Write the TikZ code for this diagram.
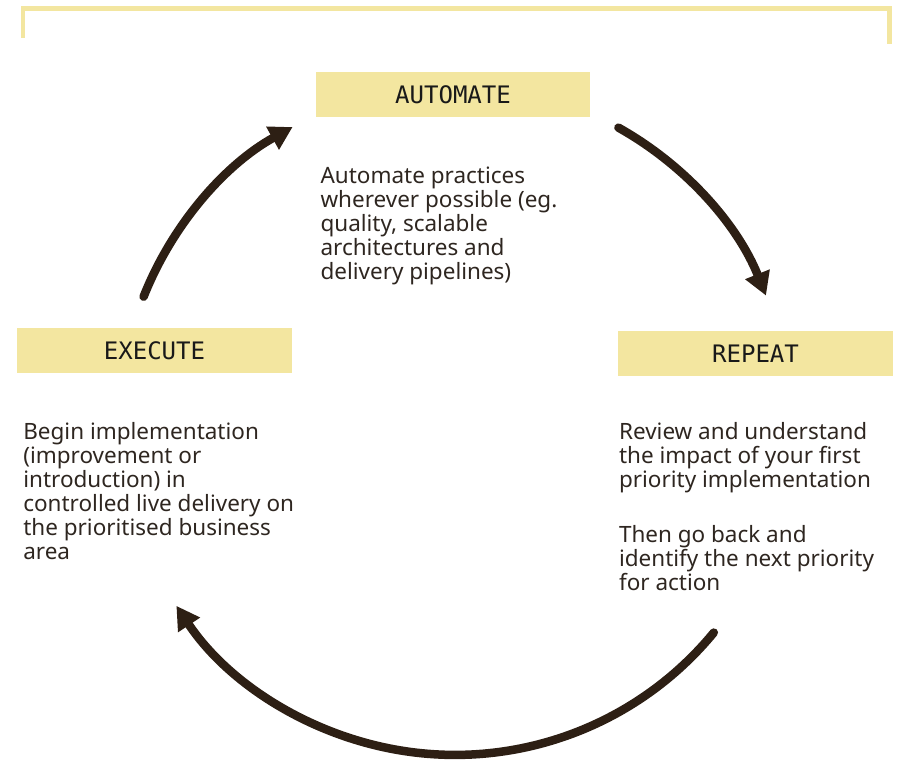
\documentclass[tikz,border=0pt]{standalone}
\usepackage{fontspec}
\setmainfont{Noto Sans}
\newfontfamily\headfont{DejaVu Sans Mono}
\usetikzlibrary{positioning,arrows.meta}

\definecolor{boxyellow}{HTML}{F3E6A0}
\definecolor{cycbrown}{HTML}{2D1F14}
\definecolor{bodytext}{HTML}{2E2620}

\begin{document}
\begin{tikzpicture}[
  x=0.02cm, y=0.02cm,
  stage/.style={fill=boxyellow, minimum width=5.5cm, minimum height=0.9cm, inner sep=0pt,
    font=\headfont\fontsize{13.7}{16}\selectfont, text=black!90},
  desc/.style={anchor=north west, inner sep=0pt, align=left, text=bodytext,
    font=\fontsize{12.8}{13.66}\selectfont},
  looparrow/.style={draw=cycbrown, line width=0.17cm, line cap=round,
    -{Triangle[length=0.46cm, width=0.5cm]}}
]
\useasboundingbox (0,0) rectangle (899,763);

% rule along the top
\draw[boxyellow, line width=0.1cm] (23,725) -- (23,754.5) -- (889.5,754.5) -- (889.5,719);

\node[stage] (auto) at (453,668.5) {AUTOMATE};
\node[stage] (exec) at (154.5,412.5) {EXECUTE};
\node[stage] (rep) at (755.5,409) {REPEAT};

\node[desc, below right=0.98cm and 0.1cm of auto.south west] (autotext)
  {Automate practices\\wherever possible (eg.\\quality, scalable\\architectures and\\delivery pipelines)};
\node[desc, below right=0.97cm and 0.126cm of exec.south west] (exectext)
  {Begin implementation\\(improvement or\\introduction) in\\controlled live delivery on\\the prioritised business\\area};
\node[desc, below right=0.9cm and 0.02cm of rep.south west] (reptext)
  {Review and understand\\the impact of your first\\priority implementation\\[0.62cm]Then go back and\\identify the next priority\\for action};

% the cycle arrows all sit on one circle
\coordinate (hub) at (455,343);
\draw[looparrow] ([shift={(158.4:6.7cm)}]hub) arc[start angle=158.4, end angle=119, radius=6.7cm];
\draw[looparrow] ([shift={(60.8:6.7cm)}]hub) arc[start angle=60.8, end angle=21.8, radius=6.7cm];
\draw[looparrow] ([shift={(-39.4:6.7cm)}]hub) arc[start angle=-39.4, end angle=-146.3, radius=6.7cm];
\end{tikzpicture}
\end{document}
